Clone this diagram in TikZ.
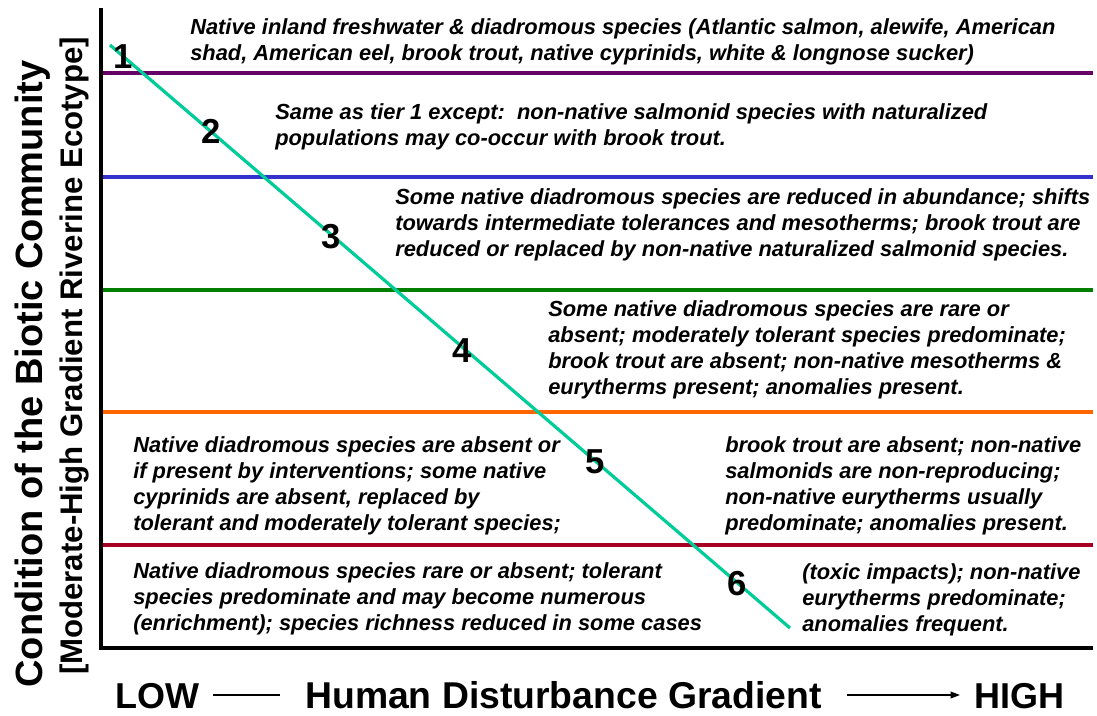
\documentclass[tikz,border=0pt]{standalone}
\usepackage{fontspec}
\setmainfont{Liberation Sans}
\usetikzlibrary{arrows.meta}
\definecolor{tierPurple}{RGB}{102,0,102}
\definecolor{tierBlue}{RGB}{51,51,204}
\definecolor{tierGreen}{RGB}{0,128,0}
\definecolor{tierOrange}{RGB}{255,102,0}
\definecolor{tierRed}{RGB}{165,0,33}
\definecolor{diagTeal}{RGB}{0,204,153}
\begin{document}
\begin{tikzpicture}[x=0.75pt,y=-0.75pt,
  desc/.style={font=\bfseries\itshape\fontsize{16.4}{19.3}\selectfont, align=left, inner sep=0pt, anchor=base west},
  tiernum/.style={font=\bfseries\fontsize{26}{30}\selectfont, inner sep=0pt, anchor=base},
  tierline/.style={line width=2.3pt},
  axistitle/.style={font=\bfseries\fontsize{27}{30}\selectfont, inner sep=0pt}]
\useasboundingbox (0,0) rectangle (1097,715);
% axes
\coordinate (ytop) at (101,8);
\coordinate (origin) at (101,648);
\coordinate (xend) at (1093,648);
% tier lines
\coordinate (p1) at (101,73);  \coordinate (q1) at (1093,73);
\coordinate (p2) at (101,177); \coordinate (q2) at (1093,177);
\coordinate (p3) at (101,290); \coordinate (q3) at (1093,290);
\coordinate (p4) at (101,412); \coordinate (q4) at (1093,412);
\coordinate (p5) at (101,545); \coordinate (q5) at (1093,545);
\draw[tierline, tierPurple] (p1) -- (q1);
\draw[tierline, tierBlue] (p2) -- (q2);
\draw[tierline, tierGreen] (p3) -- (q3);
\draw[tierline, tierOrange] (p4) -- (q4);
\draw[tierline, tierRed] (p5) -- (q5);
\draw[line width=2.3pt] (ytop) -- (origin) -- (xend);
% diagonal
\coordinate (dstart) at (110,45);
\coordinate (dend) at (790,628);
\draw[line width=2.4pt, diagTeal] (dstart) -- (dend);
% tier numbers
\node[tiernum] (n1) at (123,68) {1};
\node[tiernum] (n2) at (211,143) {2};
\node[tiernum] (n3) at (331,248) {3};
\node[tiernum] (n4) at (462,362) {4};
\node[tiernum] (n5) at (595,473) {5};
\node[tiernum] (n6) at (737,595) {6};
% descriptions (anchored at the baseline of their last line)
\node[desc] (t1) at (190,60) {Native inland freshwater \& diadromous species (Atlantic salmon, alewife, American\\shad, American eel, brook trout, native cyprinids, white \& longnose sucker)};
\node[desc] (t2) at (275,145) {Same as tier 1 except:\ \ non-native salmonid species with naturalized\\populations may co-occur with brook trout.};
\node[desc] (t3) at (395,256) {Some native diadromous species are reduced in abundance; shifts\\towards intermediate tolerances and mesotherms; brook trout are\\reduced or replaced by non-native naturalized salmonid species.};
\node[desc] (t4) at (548,394) {Some native diadromous species are rare or\\absent; moderately tolerant species predominate;\\brook trout are absent; non-native mesotherms \&\\eurytherms present; anomalies present.};
\node[desc] (t5a) at (133,530) {Native diadromous species are absent or\\if present by interventions; some native\\cyprinids are absent, replaced by\\tolerant and moderately tolerant species;};
\node[desc] (t5b) at (725,530) {brook trout are absent; non-native\\salmonids are non-reproducing;\\non-native eurytherms usually\\predominate; anomalies present.};
\node[desc] (t6a) at (133,630) {Native diadromous species rare or absent; tolerant\\species predominate and may become numerous\\(enrichment); species richness reduced in some cases};
\node[desc] (t6b) at (802,631) {(toxic impacts); non-native\\eurytherms predominate;\\anomalies frequent.};
% axis titles
\node[font=\bfseries\fontsize{28.5}{30}\selectfont, inner sep=0pt, rotate=90, anchor=base] (ytitle) at (42,374) {Condition of the Biotic Community};
\node[font=\bfseries\fontsize{23.4}{26}\selectfont, inner sep=0pt, rotate=90, anchor=base] (ysub) at (82,356) {[Moderate-High Gradient Riverine Ecotype]};
\node[axistitle, anchor=base west] (low) at (115,708) {LOW};
\node[axistitle, anchor=base west, font=\bfseries\fontsize{28}{30}\selectfont] (xtitle) at (305,708) {Human Disturbance Gradient};
\node[axistitle, anchor=base east] (high) at (1065,708) {HIGH};
\coordinate (l1) at (213,695); \coordinate (l2) at (280,695);
\draw[line width=1.1pt] (l1) -- (l2);
\coordinate (a1) at (847,695); \coordinate (a2) at (960,695);
\draw[line width=1.1pt, -{Triangle[length=7pt,width=5pt]}] (a1) -- (a2);
\end{tikzpicture}
\end{document}
